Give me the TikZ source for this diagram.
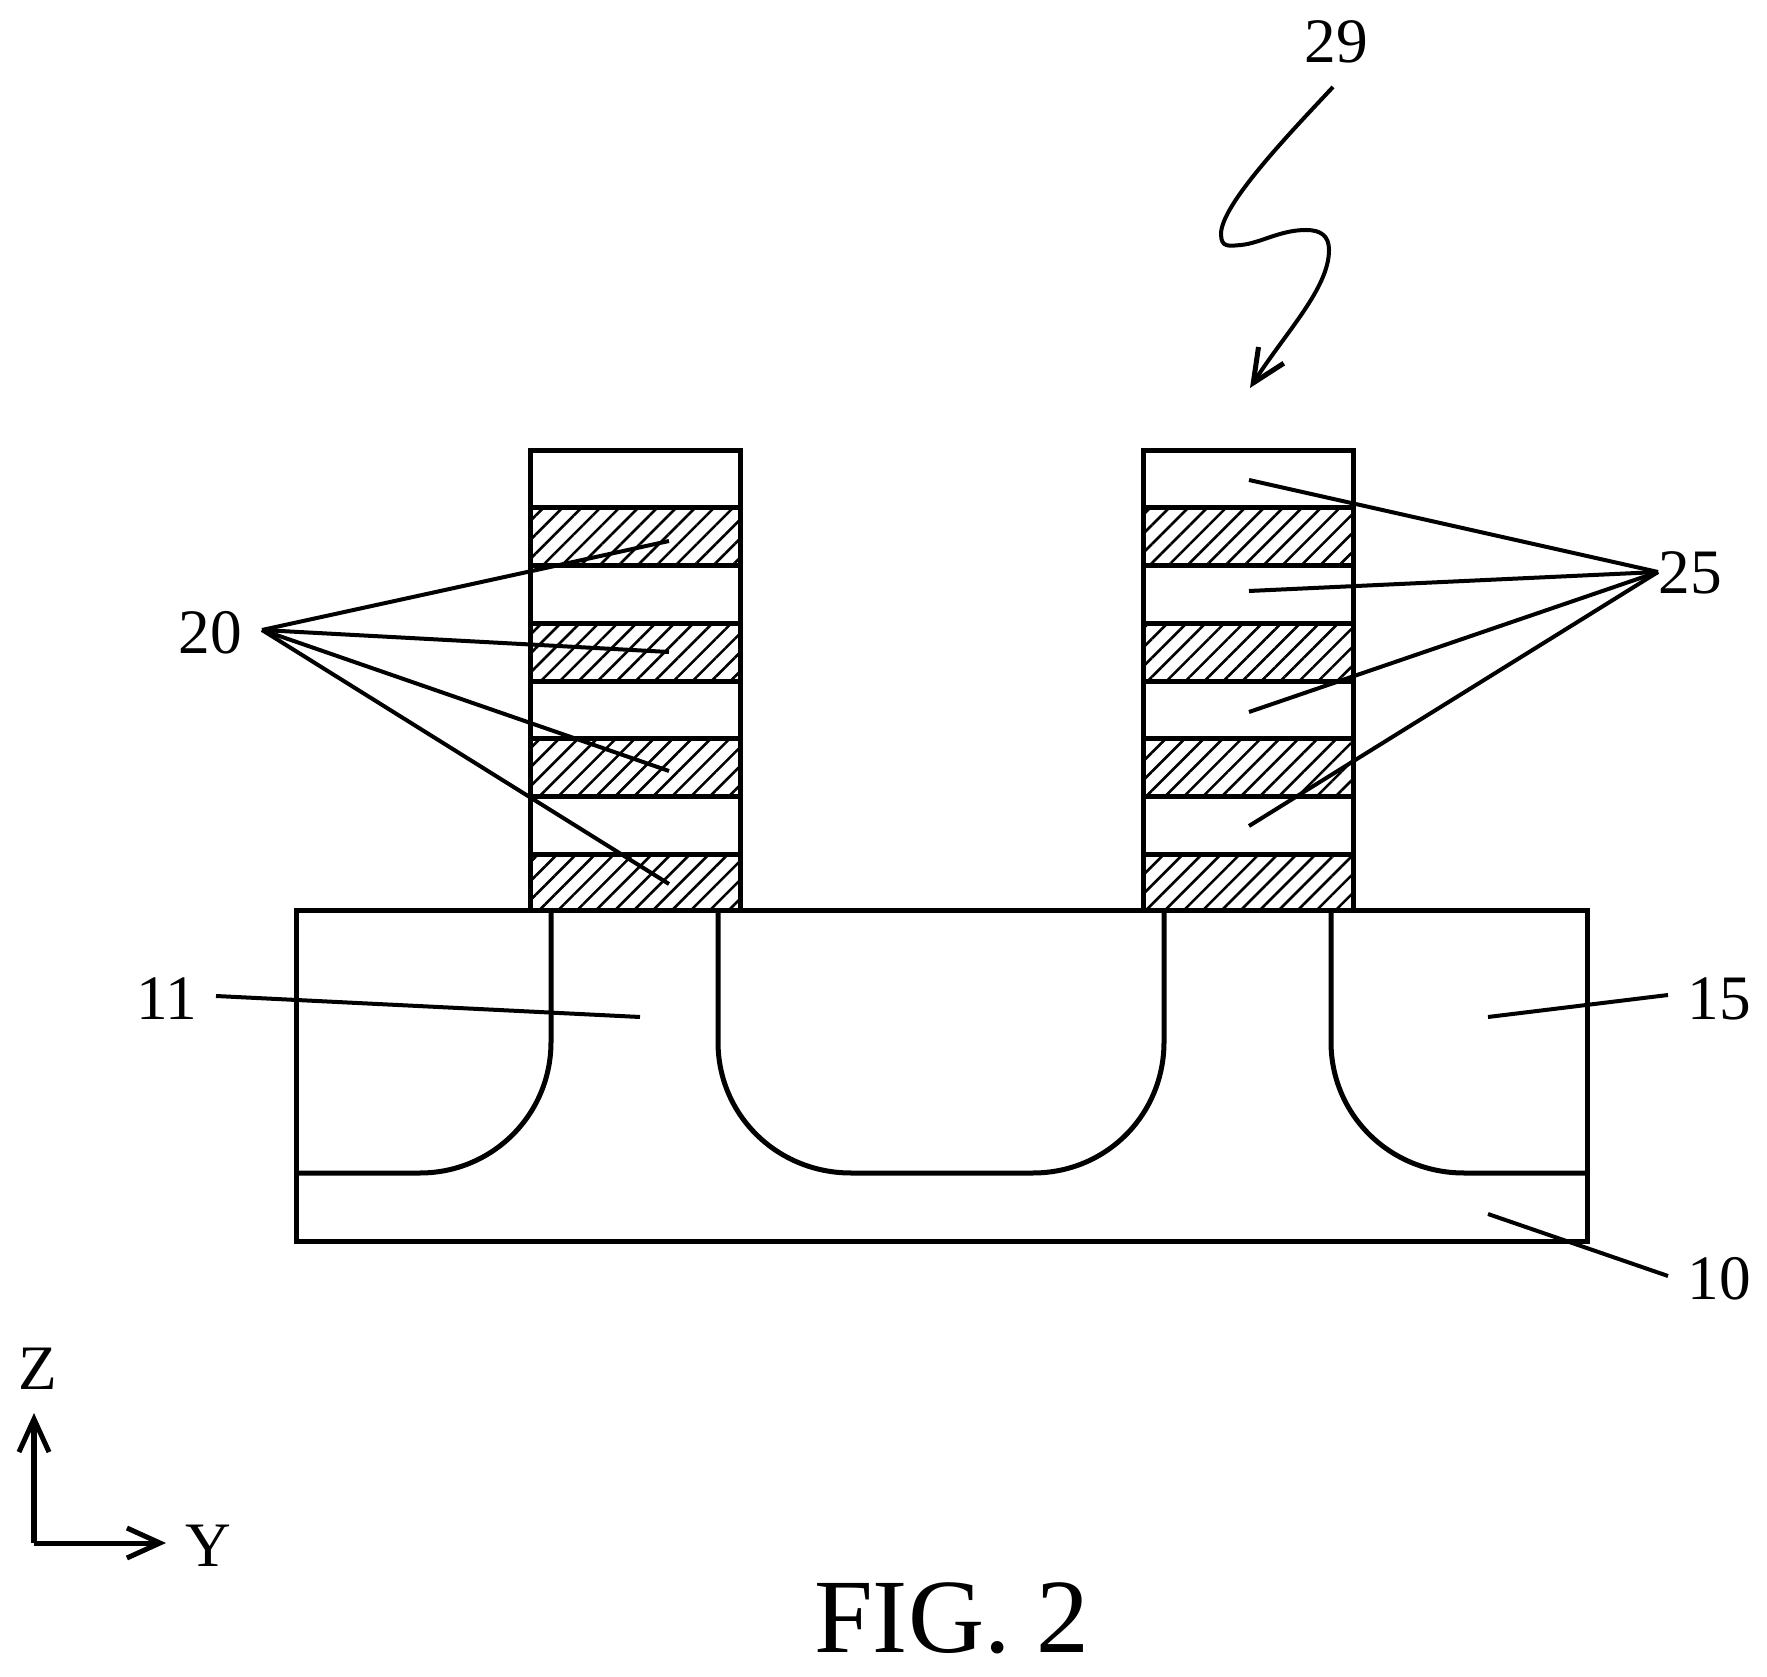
\documentclass[tikz,border=0pt]{standalone}
\usepackage{fontspec}
\setmainfont{Liberation Serif}
\usetikzlibrary{arrows.meta,patterns.meta}

\tikzset{
  outline/.style={line width=.05cm,line join=miter},
  leader/.style={line width=.04cm},
  hatched/.style={pattern={Lines[angle=45,distance=.134cm,line width=.026cm]}},
  reflabel/.style={font=\fontsize{18}{18}\selectfont,inner sep=0pt},
  barb/.style={-{Straight Barb[length=.33cm,width=.3cm,line width=.05cm]}}
}

\begin{document}
\begin{tikzpicture}[x=.01cm,y=-.01cm]
\useasboundingbox (0,0) rectangle (1767,1677);

% hatched layers, left and right stack
\foreach \ytop in {508,624,739,855} {
  \path[hatched] (530,\ytop) rectangle (740,\ytop+56);
  \path[hatched] (1143,\ytop) rectangle (1353,\ytop+56);
}

% stacks
\draw[outline] (530,911) -- (530,451) -- (740,451) -- (740,911);
\draw[outline] (1143,911) -- (1143,451) -- (1353,451) -- (1353,911);
\foreach \yline in {508,566,624,682,739,797,855} {
  \draw[outline] (530,\yline) -- (740,\yline);
  \draw[outline] (1143,\yline) -- (1353,\yline);
}

% substrate
\draw[outline] (296,911) rectangle (1587,1241);
\draw[outline] (551,911) -- (551,1042) .. controls (551,1115) and (492,1173) .. (420,1173) -- (296,1173);
\draw[outline] (718,911) -- (718,1042) .. controls (718,1115) and (777,1173) .. (851,1173)
      -- (1033,1173) .. controls (1106,1173) and (1164,1115) .. (1164,1042) -- (1164,911);
\draw[outline] (1331,911) -- (1331,1042) .. controls (1331,1115) and (1390,1173) .. (1464,1173) -- (1587,1173);

% reference numerals
\node[reflabel] (lbl29) at (1336,42) {29};
\node[reflabel] (lbl20) at (210,633) {20};
\node[reflabel] (lbl25) at (1690,573) {25};
\node[reflabel] (lbl11) at (167,999) {11};
\node[reflabel] (lbl15) at (1719,999) {15};
\node[reflabel] (lbl10) at (1719,1279) {10};

\coordinate (hub20) at (262,630);
\coordinate (hub25) at (1658,572);
\foreach \yend [count=\i] in {541,652,771,884} {
  \coordinate (gate\i) at (669,\yend);
  \draw[leader] (hub20) -- (gate\i);
}
\foreach \yend [count=\i] in {480,591,712,826} {
  \coordinate (spacer\i) at (1249,\yend);
  \draw[leader] (hub25) -- (spacer\i);
}

\coordinate (start11) at (216,996);
\coordinate (end11) at (640,1017);
\coordinate (start15) at (1668,995);
\coordinate (end15) at (1488,1017);
\coordinate (start10) at (1668,1276);
\coordinate (end10) at (1488,1214);
\draw[leader] (start11) -- (end11);
\draw[leader] (start15) -- (end15);
\draw[leader] (start10) -- (end10);

% squiggle arrow
\coordinate (start29) at (1333,87);
\coordinate (end29) at (1250,388);
\draw[leader,barb] (start29) .. controls (1288,135) and (1221,205) .. (1221,234)
      .. controls (1221,248) and (1229,246) .. (1241,245)
      .. controls (1261,243) and (1280,230) .. (1306,230)
      .. controls (1321,230) and (1329,236) .. (1329,250)
      .. controls (1329,288) and (1286,332) .. (end29);

% axes
\coordinate (origin) at (34,1543);
\coordinate (ztip) at (34,1413);
\coordinate (ytip) at (166,1543);
\draw[outline,barb] (origin) -- (ztip);
\draw[outline,barb] (origin) -- (ytip);
\node[reflabel] (lblz) at (38,1369) {Z};
\node[reflabel] (lbly) at (208,1546) {Y};

\node[inner sep=0pt,font=\fontsize{30}{30}\selectfont] (caption) at (952,1618) {FIG. 2};
\end{tikzpicture}
\end{document}
